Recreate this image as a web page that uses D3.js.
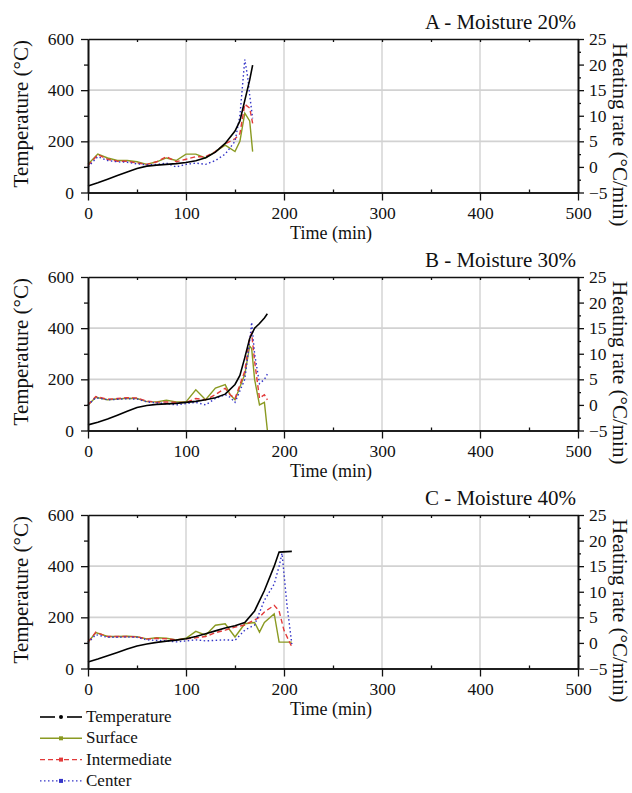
<!DOCTYPE html>
<html lang="en">
<head>
<meta charset="UTF-8">
<title>Temperature and heating rate</title>
<script src="https://cdn.jsdelivr.net/npm/d3@7/dist/d3.min.js"></script>
<style>
    body { margin: 0; background: #fff; overflow: hidden; }
    svg { display: block; }
</style>
</head>
<body>
<svg width="632" height="793" id="main"></svg>
<script>
    // panel A - moisture 20%
    let timeTempA = [0, 10, 20, 30, 40, 50, 60, 70, 80, 90, 100, 110, 120, 130, 140, 150, 155, 160, 165, 168];
    let tempA = [25, 38, 52, 66, 80, 94, 103, 107, 110, 113, 117, 124, 136, 158, 192, 240, 280, 360, 440, 498];
    let timeRateA = [0, 10, 20, 30, 40, 50, 60, 70, 80, 90, 100, 110, 120, 130, 140, 150, 155, 160, 165, 168];
    let surfaceA = [0.5, 2.5, 1.75, 1.25, 1.25, 1.0, 0.5, 1.0, 1.75, 1.25, 2.5, 2.5, 1.75, 3.0, 4.25, 3.0, 5.0, 10.5, 9.0, 3.0];
    let intermediateA = [0.25, 2.4, 1.5, 1.1, 1.1, 0.75, 0.5, 1.0, 2.0, 1.0, 1.5, 2.0, 2.0, 3.0, 4.5, 5.5, 6.5, 12.25, 11.5, 8.5];
    let timeCenterA = [0, 10, 20, 30, 40, 50, 60, 70, 80, 90, 100, 110, 120, 130, 140, 150, 155, 160, 163, 165, 168];
    let centerA = [0, 2, 1.25, 1, 0.9, 0.6, 0.4, 0.5, 0.75, 0, 0.5, 0.75, 0.5, 1.25, 2.5, 5, 10, 21, 17.5, 14, 9.5];

    // panel B - moisture 30%
    let timeTempB = [0, 10, 20, 30, 40, 50, 60, 70, 80, 90, 100, 110, 120, 130, 140, 150, 155, 160, 165, 170, 175, 180, 183];
    let tempB = [22, 32, 45, 60, 75, 90, 98, 102, 104, 106, 110, 114, 120, 128, 142, 180, 215, 285, 360, 400, 418, 440, 456];
    let timeRateB = [0, 8, 20, 30, 40, 50, 60, 70, 80, 90, 100, 110, 120, 130, 140, 145, 150, 160, 165, 167, 170, 175, 180, 183];
    let surfaceB = [0, 1.5, 1, 1.15, 1.3, 1.25, 0.65, 0.6, 0.9, 0.6, 0.6, 2.95, 1, 3.3, 3.95, 2, 1, 6, 11.5, 11, 5, 0, 0.5, -4.9];
    let intermediateB = [0, 1.65, 1.1, 1.25, 1.4, 1.35, 0.75, 0.5, 0.6, 0.5, 0.5, 1.25, 1.0, 2.0, 3.25, 2.0, 1.25, 6.6, 13.2, 14, 8.55, 1.3, 2, 1];
    let centerB = [0, 1.4, 1, 1.1, 1.2, 1.15, 0.6, 0.4, 0.25, 0, 0.25, 0.5, 0, 1.25, 2, 1.5, 0.5, 5, 12.5, 16.15, 10, 4.15, 5, 6];

    // panel C - moisture 40%
    let timeTempC = [0, 10, 20, 30, 40, 50, 60, 70, 80, 90, 100, 110, 120, 130, 140, 150, 160, 170, 180, 190, 195, 208];
    let tempC = [25, 37, 50, 63, 76, 88, 96, 102, 107, 111, 116, 125, 136, 147, 158, 167, 180, 225, 305, 400, 455, 458];
    let timeRateC = [0, 8, 20, 30, 40, 50, 60, 70, 80, 90, 100, 110, 120, 130, 140, 150, 160, 170, 175, 180, 190, 195, 200, 208];
    let surfaceC = [0.15, 2, 1.25, 1.25, 1.3, 1.2, 0.8, 1, 0.9, 0.6, 0.9, 2.25, 1.5, 3.45, 3.75, 1.15, 3.75, 4, 2.1, 4, 5.7, 0.15, 0.15, 0.15];
    let intermediateC = [0.15, 2.1, 1.25, 1.25, 1.25, 1.2, 0.75, 0.9, 0.8, 0.6, 0.8, 1, 1.25, 2, 2.5, 3.1, 3.5, 4.5, 5, 6.05, 7.35, 6.25, 2.45, -0.8];
    let timeCenterC = [0, 8, 20, 30, 40, 50, 60, 70, 80, 90, 100, 110, 120, 130, 140, 150, 160, 170, 180, 190, 195, 198, 203, 208];
    let centerC = [0, 1.6, 1.1, 1.1, 1.15, 1.1, 0.6, 0.5, 0.4, 0.2, 0.4, 0.6, 0.4, 0.5, 0.6, 0.5, 2.5, 3.5, 8.35, 11.5, 15, 17.5, 7.5, -0.25];

    let panelTitles = ['A - Moisture 20%', 'B - Moisture 30%', 'C - Moisture 40%'];
    let seriesNames = ['Temperature', 'Surface', 'Intermediate', 'Center'];
    let timeTicks = [0, 100, 200, 300, 400, 500];
    let tempTicks = [0, 200, 400, 600];
    let rateTicks = [-5, 0, 5, 10, 15, 20, 25];

    function draw() {
        let panels = [
            {temp: [timeTempA, tempA], surface: [timeRateA, surfaceA], intermediate: [timeRateA, intermediateA], center: [timeCenterA, centerA]},
            {temp: [timeTempB, tempB], surface: [timeRateB, surfaceB], intermediate: [timeRateB, intermediateB], center: [timeRateB, centerB]},
            {temp: [timeTempC, tempC], surface: [timeRateC, surfaceC], intermediate: [timeRateC, intermediateC], center: [timeCenterC, centerC]}
        ];

        let colors = {temp: '#000000', surface: '#8a9a22', intermediate: '#e23a3a', center: '#3434c8'};
        let dashes = {temp: null, surface: null, intermediate: '5,3', center: '1.5,2.5'};
        const fontName = 'Liberation Serif';

        let svg = d3.select('#main');
        let plotLeft = 88;
        const plotW = 490;
        const plotH = 153.5;
        let panelTop = [39, 277, 515];

        let x = d3.scaleLinear().domain([0, 500]).range([0, plotW]);
        let y = d3.scaleLinear().domain([0, 600]).range([plotH, 0]);
        let y2 = d3.scaleLinear().domain([-5, 25]).range([plotH, 0]);

        function zip(pair) {
            return pair[0].map((t, i) => [t, pair[1][i]]);
        }

        function styleAxis(sel) {
            sel.attr('font-family', fontName);
            sel.selectAll('.domain').attr('stroke', '#111').attr('stroke-width', 1.6);
            sel.selectAll('.tick line').attr('stroke', '#111').attr('stroke-width', 1.3);
            sel.selectAll('.tick text').attr('font-family', fontName).style('font-family', `'${fontName}'`)
                .attr('font-size', 17.5).attr('fill', '#111');
        }

        function label(g, txt, size) {
            return g.append('text').text(txt)
                .attr('font-family', fontName).style('font-family', `'${fontName}'`)
                .attr('font-size', size).attr('fill', '#111');
        }

        panels.forEach((p, i) => {
            let g = svg.append('g').attr('transform', `translate(${plotLeft}, ${panelTop[i]})`);

            // grid
            g.append('g').selectAll('line').data([100, 200, 300, 400]).join('line')
                .attr('x1', d => x(d)).attr('x2', d => x(d)).attr('y1', 0).attr('y2', plotH)
                .attr('stroke', '#d2d2d2').attr('stroke-width', 1.4);
            g.append('g').selectAll('line').data([200, 400]).join('line')
                .attr('x1', 0).attr('x2', plotW).attr('y1', d => y(d)).attr('y2', d => y(d))
                .attr('stroke', '#d2d2d2').attr('stroke-width', 1.6);

            // rate series first, temperature on top
            let rateLine = d3.line().x(d => x(d[0])).y(d => y2(d[1]));
            ['surface', 'intermediate', 'center'].forEach(k => {
                g.append('path').attr('d', rateLine(zip(p[k])))
                    .attr('fill', 'none').attr('stroke', colors[k]).attr('stroke-width', 1.4)
                    .attr('stroke-dasharray', dashes[k]);
            });
            let tempLine = d3.line().x(d => x(d[0])).y(d => y(d[1]));
            g.append('path').attr('d', tempLine(zip(p.temp)))
                .attr('fill', 'none').attr('stroke', colors.temp).attr('stroke-width', 1.6);

            // axes
            let bottomAxis = g.append('g').attr('transform', `translate(0, ${plotH})`)
                .call(d3.axisBottom(x).tickValues(timeTicks).tickSize(8).tickSizeOuter(0).tickPadding(6));
            styleAxis(bottomAxis);
            let bottomMinor = g.append('g').attr('transform', `translate(0, ${plotH})`)
                .call(d3.axisBottom(x).tickValues([50, 150, 250, 350, 450]).tickSize(-3).tickSizeOuter(0).tickFormat(''));
            styleAxis(bottomMinor);
            let topAxis = g.append('g')
                .call(d3.axisTop(x).tickValues(d3.range(50, 500, 50)).tickSize(-3).tickSizeOuter(0).tickFormat(''));
            styleAxis(topAxis);
            let leftAxis = g.append('g')
                .call(d3.axisLeft(y).tickValues(tempTicks).tickSize(7).tickSizeOuter(0).tickPadding(7));
            styleAxis(leftAxis);
            let leftMinor = g.append('g')
                .call(d3.axisLeft(y).tickValues([100, 300, 500]).tickSize(4).tickSizeOuter(0).tickFormat(''));
            styleAxis(leftMinor);
            let rightAxis = g.append('g').attr('transform', `translate(${plotW}, 0)`)
                .call(d3.axisRight(y2).tickValues(rateTicks).tickSize(6).tickSizeOuter(0).tickPadding(5));
            styleAxis(rightAxis);
            let rightMinor = g.append('g').attr('transform', `translate(${plotW}, 0)`)
                .call(d3.axisRight(y2).tickValues([-2.5, 2.5, 7.5, 12.5, 17.5, 22.5]).tickSize(3).tickSizeOuter(0).tickFormat(''));
            styleAxis(rightMinor);

            // titles
            label(g, panelTitles[i], 21)
                .attr('x', plotW - 2).attr('y', -10).attr('text-anchor', 'end');
            label(g, 'Time (min)', 18)
                .attr('x', plotW / 2 - 2).attr('y', plotH + 46).attr('text-anchor', 'middle');
            label(g, 'Temperature (°C)', 21)
                .attr('transform', `translate(-60, ${plotH / 2 - 2}) rotate(-90)`).attr('text-anchor', 'middle');
            label(g, 'Heating rate  (°C/min)', 21)
                .attr('transform', `translate(${plotW + 35}, ${plotH / 2 + 19}) rotate(90)`).attr('text-anchor', 'middle');
        });

        // legend
        let legendKeys = ['temp', 'surface', 'intermediate', 'center'];
        let legend = svg.append('g').attr('transform', 'translate(40, 717)');
        seriesNames.forEach((name, i) => {
            let k = legendKeys[i];
            let row = legend.append('g').attr('transform', `translate(0, ${i * 21.3})`);
            if (k === 'temp') {
                row.append('line').attr('x1', 0).attr('x2', 15).attr('stroke', colors[k]).attr('stroke-width', 1.6);
                row.append('line').attr('x1', 27).attr('x2', 42).attr('stroke', colors[k]).attr('stroke-width', 1.6);
                row.append('circle').attr('cx', 21).attr('r', 2).attr('fill', colors[k]);
            } else {
                row.append('line').attr('x1', 0).attr('x2', 42).attr('stroke', colors[k]).attr('stroke-width', 1.4)
                    .attr('stroke-dasharray', dashes[k]);
                row.append('rect').attr('x', 19).attr('y', -2).attr('width', 4).attr('height', 4).attr('fill', colors[k]);
            }
            label(row, name, 17).attr('x', 46).attr('y', 5);
        });
    }

    draw();
</script>
</body>
</html>
